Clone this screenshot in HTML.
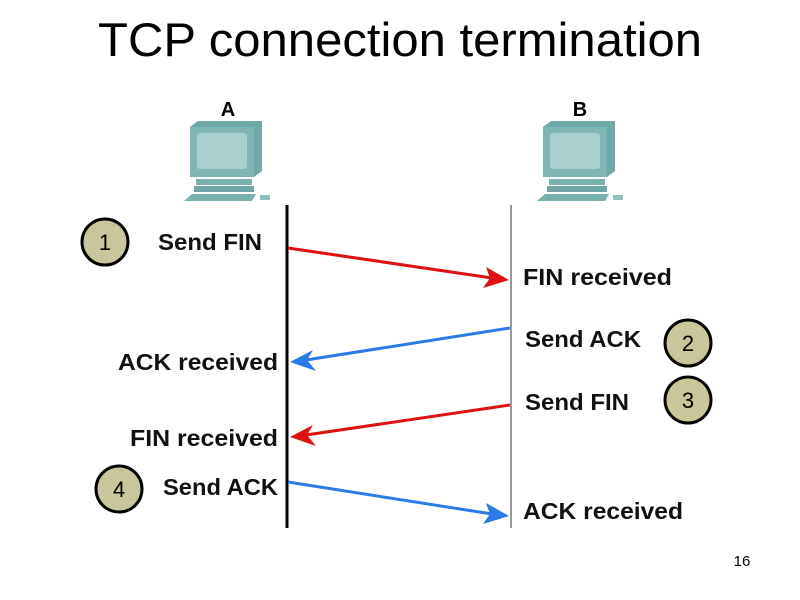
<!DOCTYPE html>
<html><head><style>body{margin:0;background:#fff}svg{display:block}</style></head><body>
<svg width="800" height="600" viewBox="0 0 800 600" xmlns="http://www.w3.org/2000/svg" font-family="Liberation Sans, sans-serif">
<text x="98" y="56" font-size="47" textLength="604" lengthAdjust="spacingAndGlyphs" fill="#000">TCP connection termination</text>
<defs>
<g id="pc">
<polygon points="0,6 8,0 72,0 72,50 64,56 0,56" fill="#6fa8a8"/>
<rect x="0" y="6" width="64" height="50" fill="#7fb5b4"/>
<rect x="7" y="12" width="50" height="36" rx="3" fill="#a9cfce"/>
<rect x="6" y="58" width="56" height="6" fill="#78b0ae"/>
<rect x="4" y="65" width="60" height="6" fill="#6ea7a5"/>
<polygon points="2,73 66,73 62,80 -6,80" fill="#78b0ae"/>
<rect x="70" y="74" width="10" height="5" fill="#8fbfbe"/>
</g>
</defs>
<text x="228" y="116" font-size="20" font-weight="bold" text-anchor="middle">A</text>
<use href="#pc" x="190" y="121"/>
<text x="580" y="116" font-size="20" font-weight="bold" text-anchor="middle">B</text>
<use href="#pc" x="543" y="121"/>
<line x1="287" y1="205" x2="287" y2="528" stroke="#000" stroke-width="3"/>
<line x1="511" y1="205" x2="511" y2="528" stroke="#999" stroke-width="2"/>
<g stroke="#000" stroke-width="3" fill="#c8c69a">
<circle cx="105" cy="242" r="23"/><circle cx="688" cy="343" r="23"/>
<circle cx="688" cy="400" r="23"/><circle cx="119" cy="489" r="23"/>
</g>
<g font-size="22" text-anchor="middle"><text x="105" y="250">1</text><text x="688" y="351">2</text><text x="688" y="408">3</text><text x="119" y="497">4</text></g>
<g font-size="23" font-weight="bold" fill="#111">
<text x="158" y="250" textLength="104" lengthAdjust="spacingAndGlyphs">Send FIN</text>
<text x="523" y="285" textLength="149" lengthAdjust="spacingAndGlyphs">FIN received</text>
<text x="525" y="347" textLength="116" lengthAdjust="spacingAndGlyphs">Send ACK</text>
<text x="118" y="370" textLength="160" lengthAdjust="spacingAndGlyphs">ACK received</text>
<text x="525" y="410" textLength="104" lengthAdjust="spacingAndGlyphs">Send FIN</text>
<text x="130" y="446" textLength="148" lengthAdjust="spacingAndGlyphs">FIN received</text>
<text x="163" y="495" textLength="115" lengthAdjust="spacingAndGlyphs">Send ACK</text>
<text x="523" y="519" textLength="160" lengthAdjust="spacingAndGlyphs">ACK received</text>
</g>
<g stroke-width="3">
<line x1="288" y1="248" x2="492" y2="278" stroke="#e01010"/>
<polygon points="509,280 483,288 490,278 486,267" fill="#e01010"/>
<line x1="510" y1="328" x2="306" y2="360" stroke="#2a7ae8"/>
<polygon points="290,362 313,350 307,360 316,371" fill="#2a7ae8"/>
<line x1="510" y1="405" x2="306" y2="435" stroke="#e01010"/>
<polygon points="290,437 313,425 307,435 316,446" fill="#e01010"/>
<line x1="288" y1="482" x2="492" y2="514" stroke="#2a7ae8"/>
<polygon points="509,516 483,524 490,514 486,503" fill="#2a7ae8"/>
</g>
<text x="742" y="566" font-size="15" text-anchor="middle">16</text>
</svg>
</body></html>
